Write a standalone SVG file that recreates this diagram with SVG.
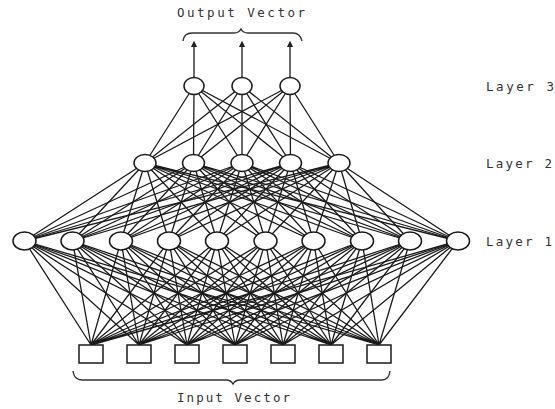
<svg xmlns="http://www.w3.org/2000/svg" width="555" height="409" viewBox="0 0 555 409">
<style>
.c{stroke:#1a1a1a;stroke-width:1.3;fill:none}
.n{fill:#fff;stroke:#1a1a1a;stroke-width:1.5}
.b{fill:none;stroke:#333;stroke-width:1.4}
.t{font-family:"DejaVu Sans Mono","Liberation Mono",monospace;font-size:12.5px;fill:#333}
</style>
<defs>
<marker id="ah" viewBox="0 0 6 6" refX="3" refY="3" markerWidth="5" markerHeight="5" orient="auto-start-reverse">
<path d="M0 0L6 3L0 6z" fill="#222"/>
</marker>
</defs>
<rect width="555" height="409" fill="#fff"/>
<g id="connectors">
<path class="c" d="M91 345L24.5 241M91 345L72.5 241M91 345L121 241M91 345L169 241M91 345L217 241M91 345L265.5 241M91 345L313.5 241M91 345L362 241M91 345L410 241M91 345L458 241"/>
<path class="c" d="M139 345L24.5 241M139 345L72.5 241M139 345L121 241M139 345L169 241M139 345L217 241M139 345L265.5 241M139 345L313.5 241M139 345L362 241M139 345L410 241M139 345L458 241"/>
<path class="c" d="M187 345L24.5 241M187 345L72.5 241M187 345L121 241M187 345L169 241M187 345L217 241M187 345L265.5 241M187 345L313.5 241M187 345L362 241M187 345L410 241M187 345L458 241"/>
<path class="c" d="M235 345L24.5 241M235 345L72.5 241M235 345L121 241M235 345L169 241M235 345L217 241M235 345L265.5 241M235 345L313.5 241M235 345L362 241M235 345L410 241M235 345L458 241"/>
<path class="c" d="M283 345L24.5 241M283 345L72.5 241M283 345L121 241M283 345L169 241M283 345L217 241M283 345L265.5 241M283 345L313.5 241M283 345L362 241M283 345L410 241M283 345L458 241"/>
<path class="c" d="M331 345L24.5 241M331 345L72.5 241M331 345L121 241M331 345L169 241M331 345L217 241M331 345L265.5 241M331 345L313.5 241M331 345L362 241M331 345L410 241M331 345L458 241"/>
<path class="c" d="M379 345L24.5 241M379 345L72.5 241M379 345L121 241M379 345L169 241M379 345L217 241M379 345L265.5 241M379 345L313.5 241M379 345L362 241M379 345L410 241M379 345L458 241"/>
<path class="c" d="M145 163L24.5 241M145 163L72.5 241M145 163L121 241M145 163L169 241M145 163L217 241M145 163L265.5 241M145 163L313.5 241M145 163L362 241M145 163L410 241M145 163L458 241"/>
<path class="c" d="M193.5 163L24.5 241M193.5 163L72.5 241M193.5 163L121 241M193.5 163L169 241M193.5 163L217 241M193.5 163L265.5 241M193.5 163L313.5 241M193.5 163L362 241M193.5 163L410 241M193.5 163L458 241"/>
<path class="c" d="M242 163L24.5 241M242 163L72.5 241M242 163L121 241M242 163L169 241M242 163L217 241M242 163L265.5 241M242 163L313.5 241M242 163L362 241M242 163L410 241M242 163L458 241"/>
<path class="c" d="M290.5 163L24.5 241M290.5 163L72.5 241M290.5 163L121 241M290.5 163L169 241M290.5 163L217 241M290.5 163L265.5 241M290.5 163L313.5 241M290.5 163L362 241M290.5 163L410 241M290.5 163L458 241"/>
<path class="c" d="M339 163L24.5 241M339 163L72.5 241M339 163L121 241M339 163L169 241M339 163L217 241M339 163L265.5 241M339 163L313.5 241M339 163L362 241M339 163L410 241M339 163L458 241"/>
<path class="c" d="M194 86L145 163M194 86L193.5 163M194 86L242 163M194 86L290.5 163M194 86L339 163"/>
<path class="c" d="M242 86L145 163M242 86L193.5 163M242 86L242 163M242 86L290.5 163M242 86L339 163"/>
<path class="c" d="M290 86L145 163M290 86L193.5 163M290 86L242 163M290 86L290.5 163M290 86L339 163"/>
<path class="c" d="M194 77L194 44" marker-end="url(#ah)"/>
<path class="c" d="M242 77L242 44" marker-end="url(#ah)"/>
<path class="c" d="M290 77L290 44" marker-end="url(#ah)"/>
</g>
<g id="input">
<rect id="in1" class="n" x="79" y="345" width="24" height="18"/>
<rect id="in2" class="n" x="127" y="345" width="24" height="18"/>
<rect id="in3" class="n" x="175" y="345" width="24" height="18"/>
<rect id="in4" class="n" x="223" y="345" width="24" height="18"/>
<rect id="in5" class="n" x="271" y="345" width="24" height="18"/>
<rect id="in6" class="n" x="319" y="345" width="24" height="18"/>
<rect id="in7" class="n" x="367" y="345" width="24" height="18"/>
</g>
<g id="layer1">
<ellipse id="h1_1" class="n" cx="24.5" cy="241" rx="11.5" ry="9"/>
<ellipse id="h1_2" class="n" cx="72.5" cy="241" rx="11.5" ry="9"/>
<ellipse id="h1_3" class="n" cx="121" cy="241" rx="11.5" ry="9"/>
<ellipse id="h1_4" class="n" cx="169" cy="241" rx="11.5" ry="9"/>
<ellipse id="h1_5" class="n" cx="217" cy="241" rx="11.5" ry="9"/>
<ellipse id="h1_6" class="n" cx="265.5" cy="241" rx="11.5" ry="9"/>
<ellipse id="h1_7" class="n" cx="313.5" cy="241" rx="11.5" ry="9"/>
<ellipse id="h1_8" class="n" cx="362" cy="241" rx="11.5" ry="9"/>
<ellipse id="h1_9" class="n" cx="410" cy="241" rx="11.5" ry="9"/>
<ellipse id="h1_10" class="n" cx="458" cy="241" rx="11.5" ry="9"/>
</g>
<g id="layer2">
<ellipse id="h2_1" class="n" cx="145" cy="163" rx="11" ry="8.5"/>
<ellipse id="h2_2" class="n" cx="193.5" cy="163" rx="11" ry="8.5"/>
<ellipse id="h2_3" class="n" cx="242" cy="163" rx="11" ry="8.5"/>
<ellipse id="h2_4" class="n" cx="290.5" cy="163" rx="11" ry="8.5"/>
<ellipse id="h2_5" class="n" cx="339" cy="163" rx="11" ry="8.5"/>
</g>
<g id="layer3">
<ellipse id="o1" class="n" cx="194" cy="86" rx="10" ry="8.5"/>
<ellipse id="o2" class="n" cx="242" cy="86" rx="10" ry="8.5"/>
<ellipse id="o3" class="n" cx="290" cy="86" rx="10" ry="8.5"/>
</g>
<g id="braces">
<path class="b" d="M183 41Q184 33 192 33L234 33Q239 33 241 29Q243 33 248 33L293 33Q300 33 302 41"/>
<path class="b" d="M73 371Q74 380 82 380L226 380Q231 380 233 384Q235 380 240 380L382 380Q389 380 390 371"/>
</g>
<g id="labels">
<text class="t" x="177" y="17" textLength="128" lengthAdjust="spacing">Output Vector</text>
<text class="t" x="177" y="402" textLength="113" lengthAdjust="spacing">Input Vector</text>
<text class="t" x="486" y="91" textLength="68" lengthAdjust="spacing">Layer 3</text>
<text class="t" x="486" y="168" textLength="66" lengthAdjust="spacing">Layer 2</text>
<text class="t" x="486" y="246" textLength="66" lengthAdjust="spacing">Layer 1</text>
</g>
</svg>
